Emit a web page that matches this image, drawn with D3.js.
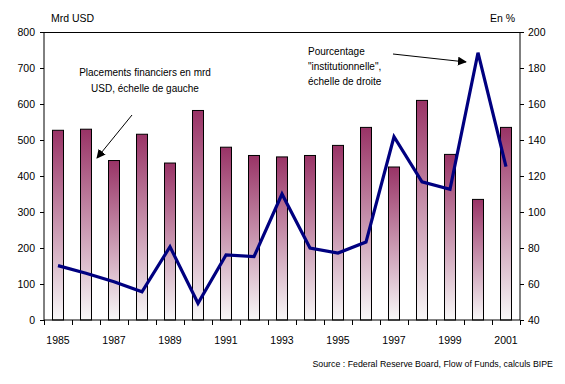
<!DOCTYPE html>
<html><head><meta charset="utf-8">
<script src="https://cdn.jsdelivr.net/npm/d3@7/dist/d3.min.js"></script>
<style>
body{margin:0;background:#fff;}
text{font-family:"Liberation Sans",Arial,sans-serif;fill:#000;}
</style></head>
<body><svg id="c" width="565" height="384"></svg>
<script>
const years = [1985,1986,1987,1988,1989,1990,1991,1992,1993,1994,1995,1996,1997,1998,1999,2000,2001];
const placements = [527,530,443,516,436,582,480,457,453,457,485,535,425,610,460,335,535];
const pourcentage = [70.2,66,61.3,55.7,80.7,49.3,76.1,75.2,110,80,77.2,83.3,141.8,116.8,112.6,188.5,125.2];
const leftTicks = [0,100,200,300,400,500,600,700,800];
const rightTicks = [40,60,80,100,120,140,160,180,200];
const yearLabels = [1985,1987,1989,1991,1993,1995,1997,1999,2001];

const svg = d3.select("#c");
const L=44, R=520, T=32, B=320;
const p = 17/28;
const x = d3.scaleBand().domain(years).range([L,R]).paddingInner(p).paddingOuter(p/2);
const yL = d3.scaleLinear().domain([0,800]).range([B,T]);
const yR = d3.scaleLinear().domain([40,200]).range([B,T]);

const defs = svg.append("defs");
const g = defs.append("linearGradient").attr("id","bg").attr("x1",0).attr("y1",0).attr("x2",0).attr("y2",1);
g.append("stop").attr("offset","0%").attr("stop-color","#993366");
g.append("stop").attr("offset","100%").attr("stop-color","#f8f8f8");
const m = defs.append("marker").attr("id","ah").attr("viewBox","0 0 10 10").attr("refX",9).attr("refY",5)
  .attr("markerWidth",9).attr("markerHeight",9).attr("markerUnits","userSpaceOnUse").attr("orient","auto");
m.append("path").attr("d","M0,0L10,5L0,10Z").attr("fill","#000");

// bars
svg.append("g").selectAll("rect").data(years).join("rect")
  .attr("x",d=>x(d)).attr("width",x.bandwidth())
  .attr("y",(d,i)=>yL(placements[i])).attr("height",(d,i)=>B-yL(placements[i]))
  .attr("fill","url(#bg)").attr("stroke","#000").attr("stroke-width",1);

// line
const line = d3.line().x((d,i)=>x(years[i])+x.bandwidth()/2).y(d=>yR(d));
svg.append("path").datum(pourcentage).attr("d",line).attr("fill","none")
  .attr("stroke","#000080").attr("stroke-width",3.2).attr("stroke-linejoin","miter");

// top frame
svg.append("line").attr("x1",L).attr("x2",R).attr("y1",T+0.5).attr("y2",T+0.5).attr("stroke","#000");

// left axis
const ax = d3.axisLeft(yL).tickValues(leftTicks).tickSize(4).tickPadding(5);
const gl = svg.append("g").attr("transform",`translate(${L},0)`).call(ax);
gl.select(".domain").attr("d",`M0,${B}V${T}`);
const ar = d3.axisRight(yR).tickValues(rightTicks).tickSize(4).tickPadding(4);
const gr = svg.append("g").attr("transform",`translate(${R},0)`).call(ar);
gr.select(".domain").attr("d",`M0,${B}V${T}`);
// bottom axis with ticks at band boundaries
const xb = d3.scaleLinear().domain([0,years.length]).range([L,R]);
const gb = svg.append("g").attr("transform",`translate(0,${B})`)
  .call(d3.axisBottom(xb).tickValues(d3.range(years.length+1)).tickSize(5).tickFormat(""));
gb.select(".domain").attr("d",`M${L},0H${R}`);
svg.append("g").selectAll("text").data(yearLabels).join("text")
  .attr("x",d=>x(d)+x.bandwidth()/2).attr("y",344).attr("text-anchor","middle")
  .attr("font-size",10.5).text(d=>d);
svg.selectAll(".tick text").attr("font-size",10.5).attr("font-family","Liberation Sans, Arial, sans-serif").attr("fill","#000");
svg.selectAll(".domain, .tick line").attr("stroke","#000");

// titles
svg.append("text").attr("x",51).attr("y",22).attr("font-size",10.5).text("Mrd USD");
svg.append("text").attr("x",490).attr("y",22).attr("font-size",10.5).text("En %");

// annotations
const a1 = svg.append("text").attr("font-size",10).attr("text-anchor","middle");
a1.append("tspan").attr("x",145).attr("y",76).text("Placements financiers en mrd");
a1.append("tspan").attr("x",145).attr("y",92).text("USD, échelle de gauche");
svg.append("line").attr("x1",132).attr("y1",115).attr("x2",97).attr("y2",158).attr("stroke","#000").attr("marker-end","url(#ah)");

const a2 = svg.append("text").attr("font-size",10);
a2.append("tspan").attr("x",308).attr("y",55).text("Pourcentage");
a2.append("tspan").attr("x",308).attr("y",70).text("\"institutionnelle\",");
a2.append("tspan").attr("x",308).attr("y",85).text("échelle de droite");
svg.append("line").attr("x1",393).attr("y1",54).attr("x2",466).attr("y2",62).attr("stroke","#000").attr("marker-end","url(#ah)");

svg.append("text").attr("x",553).attr("y",367).attr("text-anchor","end").attr("font-size",8.8)
  .text("Source : Federal Reserve Board, Flow of Funds, calculs BIPE");
</script></body></html>
